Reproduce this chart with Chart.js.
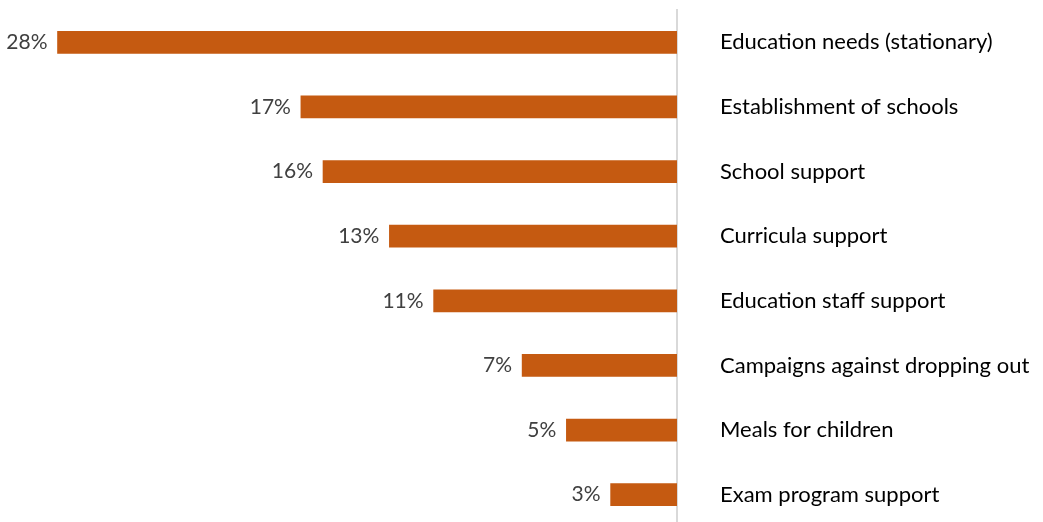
<!DOCTYPE html>
<html>
<head>
<meta charset="utf-8">
<script src="https://cdn.jsdelivr.net/npm/chart.js@4"></script>
<style>
  html, body { margin: 0; padding: 0; background: #fff; overflow: hidden; }
  #wrap { position: relative; width: 1043px; height: 527px; }
</style>
</head>
<body>
<div id="wrap"><canvas id="chart"></canvas></div>
<script>
const categories = [
    'Education needs (stationary)',
    'Establishment of schools',
    'School support',
    'Curricula support',
    'Education staff support',
    'Campaigns against dropping out',
    'Meals for children',
    'Exam program support'
];
const shares = [28, 17, 16, 13, 11, 7, 5, 3];

const FONT = 'Lato, "Noto Sans", sans-serif';

// percentages written just left of each bar
const valueLabels = {
    id: 'valueLabels',
    afterDatasetsDraw(chart) {
        const ctx = chart.ctx;
        const meta = chart.getDatasetMeta(0);
        ctx.save();
        ctx.font = '21px ' + FONT;
        ctx.fillStyle = '#404040';
        ctx.textAlign = 'right';
        ctx.textBaseline = 'middle';
        meta.data.forEach((bar, i) => {
            ctx.fillText(shares[i] + '%', bar.x - 10, bar.y);
        });
        ctx.restore();
    }
};

let chart = new Chart(document.querySelector('#chart'), {
    type: 'bar',
    data: {
        labels: categories,
        datasets: [{
            data: shares,
            backgroundColor: '#C55A11',
            barThickness: 22
        }]
    },
    options: {
        indexAxis: 'y',
        responsive: true,
        maintainAspectRatio: false,
        animation: false,
        layout: { padding: { top: 10, left: 0, right: 0, bottom: 0 } },
        plugins: {
            legend: { display: false },
            tooltip: { enabled: false }
        },
        scales: {
            x: {
                reverse: true,
                min: 0,
                max: 30.6,
                display: false
            },
            y: {
                position: 'right',
                grid: { display: false, drawTicks: false },
                border: { display: true, color: '#d9d9d9', width: 2 },
                ticks: {
                    color: '#000',
                    padding: 43,
                    font: { family: FONT, size: 22 }
                },
                afterFit(scale) {
                    // keep the axis width fixed and drop the label padding above/below
                    scale.width = 366;
                    scale.paddingTop = 0;
                    scale.paddingBottom = 0;
                }
            }
        }
    },
    plugins: [valueLabels]
});
</script>
</body>
</html>
